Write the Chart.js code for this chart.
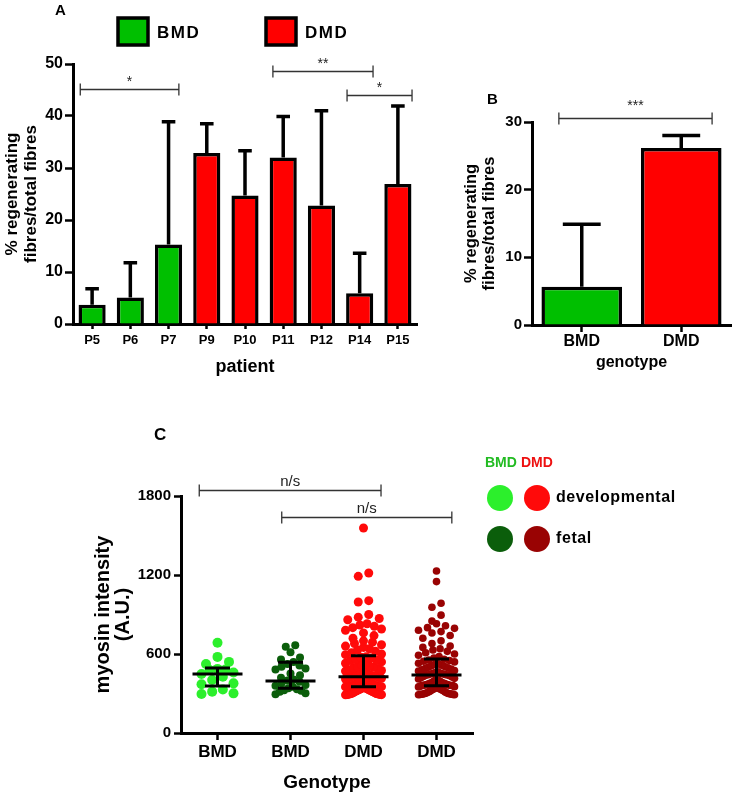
<!DOCTYPE html>
<html>
<head>
<meta charset="utf-8">
<script src="https://cdn.jsdelivr.net/npm/chart.js@4"></script>
<style>
  body { margin: 0; background: #fff; }
  #wrap { position: relative; width: 735px; height: 794px; }
  canvas { position: absolute; }
</style>
</head>
<body>
<div id="wrap">
  <canvas id="chartA" width="440" height="380" style="left:0;top:0"></canvas>
  <canvas id="chartB" width="295" height="295" style="left:440px;top:80px"></canvas>
  <canvas id="chartC" width="735" height="414" style="left:0;top:380px"></canvas>
</div>
<script>
// panel A: per patient
const aPatients = ['P5', 'P6', 'P7', 'P9', 'P10', 'P11', 'P12', 'P14', 'P15'];
const aGenotype = ['BMD', 'BMD', 'BMD', 'DMD', 'DMD', 'DMD', 'DMD', 'DMD', 'DMD'];
const aMeans = [3.7, 5.1, 15.3, 32.9, 24.7, 32.0, 22.8, 5.9, 26.9];
const aUpper = [6.8, 11.8, 38.9, 38.5, 33.3, 39.9, 41.0, 13.6, 41.9];
const aTicks = [0, 10, 20, 30, 40, 50];
const aSigFrom = [-0.31, 4.73, 6.67];
const aSigTo = [2.27, 7.35, 8.37];
const aSigY = [45.2, 48.6, 44.0];
const aSigText = ['*', '**', '*'];

// panel B: per genotype
const bGenotypes = ['BMD', 'DMD'];
const bMeans = [5.65, 26.15];
const bUpper = [14.9, 28.0];
const bTicks = [0, 10, 20, 30];
const bSigFrom = [-0.23];
const bSigTo = [1.31];
const bSigY = [30.6];
const bSigText = ['***'];

// panel C: myosin intensity per fibre
const cLabels = ['BMD', 'BMD', 'DMD', 'DMD'];
const cBmdDev = [686, 578, 540, 524, 487, 482, 479, 460, 448, 427, 403, 377, 370, 330, 314, 301, 296];
const cBmdFetal = [667, 655, 614, 574, 559, 540, 525, 513, 503, 490, 482, 452, 439, 420, 406, 398, 390, 377,
  365, 359, 351, 340, 332, 325, 321, 313, 301, 295];
const cDmdDev = [1557, 1215, 1190, 1005, 995, 900, 880, 870, 860, 830, 820, 810, 800, 790, 780, 760, 740, 720,
  700, 690, 680, 670, 660, 650, 640, 630, 620, 610, 600, 595,
  580, 575, 570, 560, 555, 550, 540, 530, 525, 520, 510, 505, 500, 495, 490, 480, 475, 470, 465, 460, 455,
  450, 445, 440, 440, 435, 432, 430, 430, 429,
  425, 420, 418, 415, 410, 405, 400, 400, 395, 390, 388, 385, 380, 378, 375, 372, 370, 368, 365, 362, 360,
  360, 358, 356, 355, 354, 353, 352, 352, 352,
  350, 348, 345, 342, 340, 338, 335, 332, 330, 328, 325, 322, 320, 318, 315, 312, 310, 308, 305, 302, 300,
  300, 298, 296, 295, 294, 293, 292, 291, 290];
const cDmdFetal = [1230, 1150, 985, 955, 895, 850, 830, 815, 800, 795, 780, 770, 760, 740, 720, 700, 680, 660,
  650, 640, 630, 620, 610, 600, 590, 580, 570,
  560, 555, 550, 545, 540, 530, 525, 520, 515, 510, 505, 500, 495, 490, 485, 480, 475, 470, 465, 460, 455,
  452, 450, 448, 445, 442, 441,
  438, 435, 430, 425, 420, 415, 410, 405, 400, 398, 395, 390, 385, 382, 380, 378, 375, 372, 370, 368, 366,
  364, 363, 362, 361, 360, 360,
  355, 352, 350, 345, 342, 340, 336, 332, 330, 326, 322, 320, 316, 312, 310, 306, 303, 300, 300, 298, 296,
  295, 294, 293, 292, 291, 290];
const cMedian = [448, 395, 428, 440];
const cQ1 = [357, 339, 352, 359];
const cQ3 = [494, 537, 587, 562];
const cTicks = [0, 600, 1200, 1800];
const cSigFrom = [0.75, 1.88];
const cSigTo = [3.24, 4.21];
const cSigY = [1845, 1640];
const cSigText = ['n/s', 'n/s'];

const FONT = '"Liberation Sans", Arial, Helvetica, sans-serif';
const GREEN = '#00bf00';
const RED = '#ff0000';
const C_COLORS = ['#2cef2c', '#0b5e0b', '#ff0a0a', '#990303'];

Chart.defaults.font.family = FONT;
Chart.defaults.color = '#000';

function axisGrid(len) {
  return { drawOnChartArea: false, offset: false, tickLength: len, tickWidth: 2.5, tickColor: '#000' };
}

function bracket(ctx, x1, x2, y, text, gap) {
  ctx.beginPath();
  ctx.moveTo(x1, y - 6); ctx.lineTo(x1, y + 6);
  ctx.moveTo(x1, y); ctx.lineTo(x2, y);
  ctx.moveTo(x2, y - 6); ctx.lineTo(x2, y + 6);
  ctx.stroke();
  ctx.fillText(text, (x1 + x2) / 2, y - gap);
}

function drawErrors(chart, upper, cap) {
  const { ctx } = chart;
  const y = chart.scales.y;
  ctx.save();
  ctx.strokeStyle = '#000';
  ctx.lineWidth = 3.5;
  chart.getDatasetMeta(0).data.forEach((bar, i) => {
    const top = y.getPixelForValue(upper[i]);
    const half = bar.width * cap / 2;
    ctx.beginPath();
    ctx.moveTo(bar.x, bar.y); ctx.lineTo(bar.x, top);
    ctx.moveTo(bar.x - half, top); ctx.lineTo(bar.x + half, top);
    ctx.stroke();
  });
  ctx.restore();
}

function drawSig(chart, from, to, ys, texts, gap, font) {
  const { ctx } = chart;
  const x = chart.scales.x, y = chart.scales.y;
  ctx.save();
  ctx.strokeStyle = '#333';
  ctx.lineWidth = 1.3;
  ctx.fillStyle = '#222';
  ctx.font = font;
  ctx.textAlign = 'center';
  ctx.textBaseline = 'alphabetic';
  from.forEach((f, i) => {
    bracket(ctx, x.getPixelForValue(f), x.getPixelForValue(to[i]), Math.round(y.getPixelForValue(ys[i])) + 0.5, texts[i], gap);
  });
  ctx.restore();
}

// simple dot-plot layout: values in close rows are spread sideways
function swarm(values, center, rowH, dotPx, spanPx, pxPerUnit) {
  const sorted = values.slice().sort((a, b) => a - b);
  const pts = [];
  let i = 0;
  while (i < sorted.length) {
    let j = i;
    while (j < sorted.length && sorted[j] - sorted[i] < rowH) j++;
    const row = sorted.slice(i, j);
    const n = row.length;
    const step = n > 1 ? Math.min(dotPx, spanPx / (n - 1)) : 0;
    row.forEach((v, k) => {
      const slot = k % 2 === 0 ? k / 2 : n - 1 - (k - 1) / 2;
      const off = (slot - (n - 1) / 2) * step;
      pts.push({ x: center + off / pxPerUnit, y: v });
    });
    i = j;
  }
  return pts;
}

// ---------- A ----------
new Chart(document.getElementById('chartA'), {
  type: 'bar',
  data: {
    labels: aPatients,
    datasets: [{
      data: aMeans,
      backgroundColor: aGenotype.map(g => g === 'BMD' ? GREEN : RED),
      borderColor: '#000',
      borderWidth: 3.5,
      barPercentage: 0.71,
      categoryPercentage: 1
    }]
  },
  options: {
    responsive: false,
    animation: false,
    events: [],
    layout: { padding: { top: 64, right: 23, left: 0, bottom: 0 } },
    plugins: { legend: { display: false }, tooltip: { enabled: false } },
    scales: {
      x: {
        grid: axisGrid(5),
        border: { color: '#000', width: 3 },
        ticks: { font: { size: 13, weight: 'bold' }, padding: 4, autoSkip: false, maxRotation: 0 },
        title: { display: true, text: 'patient', font: { size: 18, weight: 'bold' }, padding: { top: 0, bottom: 2 } },
        afterFit: s => { s.height = 56; }
      },
      y: {
        min: 0,
        max: 50,
        afterBuildTicks: s => { s.ticks = aTicks.map(v => ({ value: v })); },
        grid: axisGrid(8),
        border: { color: '#000', width: 3 },
        ticks: { font: { size: 16, weight: 'bold' }, padding: 2 },
        title: {
          display: true,
          text: ['% regenerating', 'fibres/total fibres'],
          font: { size: 17, weight: 'bold', lineHeight: 1.1 },
          padding: { top: 3, bottom: 0 }
        },
        afterFit: s => { s.width = 73; }
      }
    }
  },
  plugins: [{
    id: 'panelA',
    afterDatasetsDraw(chart) { drawErrors(chart, aUpper, 0.5); },
    afterDraw(chart) {
      const { ctx } = chart;
      drawSig(chart, aSigFrom, aSigTo, aSigY, aSigText, 4, '14px ' + FONT);
      ctx.save();
      ctx.font = 'bold 15px ' + FONT;
      ctx.textBaseline = 'middle';
      ctx.fillStyle = '#000';
      ctx.fillText('A', 55, 11);
      // legend
      ctx.lineWidth = 3.5;
      ctx.strokeStyle = '#000';
      [['BMD', GREEN, 118], ['DMD', RED, 266]].forEach(([label, col, x0]) => {
        ctx.fillStyle = col;
        ctx.fillRect(x0, 18, 30, 27);
        ctx.strokeRect(x0, 18, 30, 27);
        ctx.fillStyle = '#000';
        ctx.font = 'bold 17px ' + FONT;
        ctx.letterSpacing = '1.5px';
        ctx.fillText(label, x0 + 39, 33);
      });
      ctx.restore();
    }
  }]
});

// ---------- B ----------
new Chart(document.getElementById('chartB'), {
  type: 'bar',
  data: {
    labels: bGenotypes,
    datasets: [{
      data: bMeans,
      backgroundColor: [GREEN, RED],
      borderColor: '#000',
      borderWidth: 3.5,
      barPercentage: 0.81,
      categoryPercentage: 1
    }]
  },
  options: {
    responsive: false,
    animation: false,
    events: [],
    layout: { padding: { top: 42, right: 4, left: 0, bottom: 0 } },
    plugins: { legend: { display: false }, tooltip: { enabled: false } },
    scales: {
      x: {
        grid: axisGrid(7),
        border: { color: '#000', width: 3 },
        ticks: { font: { size: 16, weight: 'bold' }, padding: 0, maxRotation: 0 },
        title: { display: true, text: 'genotype', font: { size: 16, weight: 'bold' }, padding: { top: 0, bottom: 3 } },
        afterFit: s => { s.height = 50; }
      },
      y: {
        min: 0,
        max: 30,
        afterBuildTicks: s => { s.ticks = bTicks.map(v => ({ value: v })); },
        grid: axisGrid(8),
        border: { color: '#000', width: 3 },
        ticks: { font: { size: 15, weight: 'bold' }, padding: 2 },
        title: {
          display: true,
          text: ['% regenerating', 'fibres/total fibres'],
          font: { size: 16.5, weight: 'bold', lineHeight: 1.1 },
          padding: { top: 22, bottom: 0 }
        },
        afterFit: s => { s.width = 92; }
      }
    }
  },
  plugins: [{
    id: 'panelB',
    afterDatasetsDraw(chart) { drawErrors(chart, bUpper, 0.47); },
    afterDraw(chart) {
      const { ctx } = chart;
      drawSig(chart, bSigFrom, bSigTo, bSigY, bSigText, 9, '14px ' + FONT);
      ctx.save();
      ctx.font = 'bold 15px ' + FONT;
      ctx.textBaseline = 'middle';
      ctx.fillStyle = '#000';
      ctx.fillText('B', 47, 20);
      ctx.restore();
    }
  }]
});

// ---------- C ----------
const C_PX_PER_UNIT = 292 / 4;
const cGroups = [cBmdDev, cBmdFetal, cDmdDev, cDmdFetal];
const cRadius = [5, 4, 4.5, 3.8];
const cSpan = [32, 30, 36, 36];

new Chart(document.getElementById('chartC'), {
  type: 'scatter',
  data: {
    datasets: cGroups.map((vals, i) => ({
      data: swarm(vals, i + 1, 60, cRadius[i] * 2 + 1.5, cSpan[i], C_PX_PER_UNIT),
      backgroundColor: C_COLORS[i],
      borderWidth: 0,
      pointRadius: cRadius[i]
    }))
  },
  options: {
    responsive: false,
    animation: false,
    events: [],
    layout: { padding: { top: 116, right: 262, left: 0, bottom: 0 } },
    plugins: { legend: { display: false }, tooltip: { enabled: false } },
    scales: {
      x: {
        type: 'linear',
        min: 0.5,
        max: 4.5,
        afterBuildTicks: s => { s.ticks = cLabels.map((l, i) => ({ value: i + 1 })); },
        grid: axisGrid(7),
        border: { color: '#000', width: 3 },
        ticks: { font: { size: 17, weight: 'bold' }, padding: 2, callback: (v, i) => cLabels[i] },
        title: { display: true, text: 'Genotype', font: { size: 19, weight: 'bold' }, padding: { top: 0, bottom: 0 } },
        afterFit: s => { s.height = 61; }
      },
      y: {
        min: 0,
        max: 1800,
        afterBuildTicks: s => { s.ticks = cTicks.map(v => ({ value: v })); },
        grid: axisGrid(7),
        border: { color: '#000', width: 3 },
        ticks: { font: { size: 15, weight: 'bold' }, padding: 3, callback: v => String(v) },
        title: {
          display: true,
          text: ['myosin intensity', '(A.U.)'],
          font: { size: 20, weight: 'bold', lineHeight: 1.0 },
          padding: { top: 93, bottom: 0 }
        },
        afterFit: s => { s.width = 181; }
      }
    }
  },
  plugins: [{
    id: 'panelC',
    afterDatasetsDraw(chart) {
      const { ctx } = chart;
      const x = chart.scales.x, y = chart.scales.y;
      ctx.save();
      ctx.strokeStyle = '#000';
      ctx.lineWidth = 3;
      cMedian.forEach((m, i) => {
        const cx = x.getPixelForValue(i + 1);
        const ym = y.getPixelForValue(m), y1 = y.getPixelForValue(cQ1[i]), y3 = y.getPixelForValue(cQ3[i]);
        ctx.beginPath();
        ctx.moveTo(cx - 25, ym); ctx.lineTo(cx + 25, ym);
        ctx.moveTo(cx, y1); ctx.lineTo(cx, y3);
        ctx.moveTo(cx - 12.5, y1); ctx.lineTo(cx + 12.5, y1);
        ctx.moveTo(cx - 12.5, y3); ctx.lineTo(cx + 12.5, y3);
        ctx.stroke();
      });
      ctx.restore();
    },
    afterDraw(chart) {
      const { ctx } = chart;
      drawSig(chart, cSigFrom, cSigTo, cSigY, cSigText, 5, '15px ' + FONT);
      ctx.save();
      ctx.textBaseline = 'middle';
      ctx.fillStyle = '#000';
      ctx.font = 'bold 17px ' + FONT;
      ctx.fillText('C', 154, 55);
      // legend
      ctx.font = 'bold 14px ' + FONT;
      ctx.fillStyle = '#22bb22';
      ctx.fillText('BMD', 485, 83);
      ctx.fillStyle = '#ee1111';
      ctx.fillText('DMD', 521, 83);
      [['developmental', 0, 118], ['fetal', 1, 159]].forEach(([label, k, yy]) => {
        ctx.fillStyle = C_COLORS[k];
        ctx.beginPath(); ctx.arc(500, yy, 13, 0, Math.PI * 2); ctx.fill();
        ctx.fillStyle = C_COLORS[k + 2];
        ctx.beginPath(); ctx.arc(537, yy, 13, 0, Math.PI * 2); ctx.fill();
        ctx.fillStyle = '#000';
        ctx.font = 'bold 16px ' + FONT;
        ctx.letterSpacing = '0.6px';
        ctx.fillText(label, 556, yy);
        ctx.letterSpacing = '0px';
      });
      ctx.restore();
    }
  }]
});
</script>
</body>
</html>
